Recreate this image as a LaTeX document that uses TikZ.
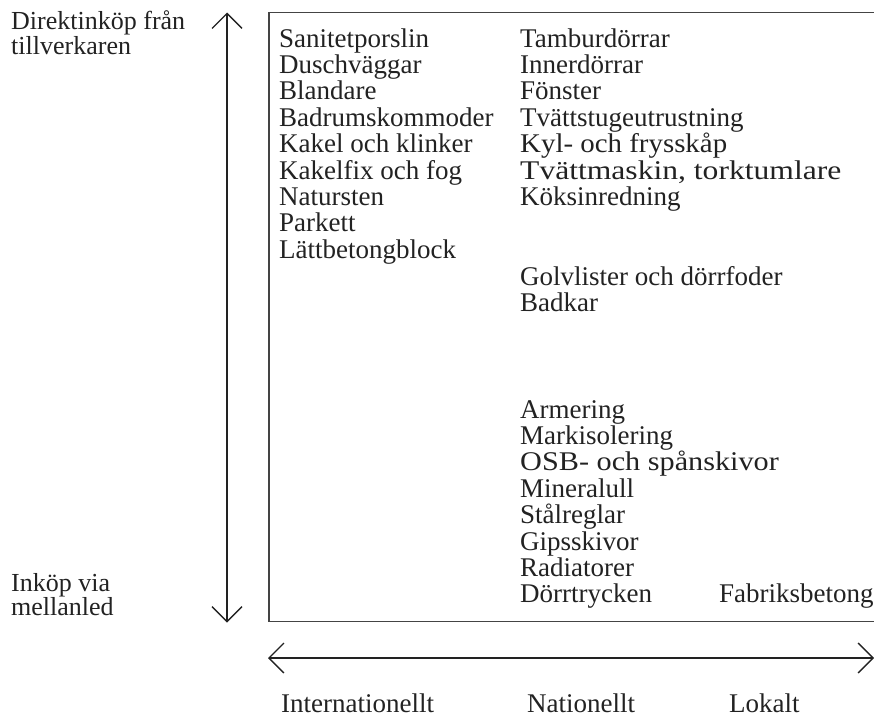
\documentclass[tikz,border=0pt]{standalone}
\usepackage{fontspec}
\usepackage{graphicx}
\setmainfont{Liberation Serif}
\usetikzlibrary{arrows.meta}
\definecolor{ink}{HTML}{222222}
\definecolor{rule}{HTML}{444444}
\tikzset{
  item/.style={anchor=base west, inner sep=0pt, font=\fontsize{27}{26.4}\selectfont, text=ink},
  side/.style={anchor=base west, inner sep=0pt, font=\fontsize{26}{23}\selectfont, text=ink},
  axis/.style={draw=ink, line width=1.3pt, {Straight Barb[length=15pt,width=30pt]}-{Straight Barb[length=15pt,width=30pt]}},
  frame/.style={draw=rule, line width=1.2pt}
}
\begin{document}
\begin{tikzpicture}[x=1pt,y=-1pt]
\useasboundingbox (0,0) rectangle (874,718);
% frame
\coordinate (tr) at (874,12.3);
\coordinate (tl) at (269,12.3);
\coordinate (bl) at (269,621.5);
\coordinate (br) at (874,621.5);
\draw[frame] (tr) -- (tl) -- (bl) -- (br);
% axes
\coordinate (vtop) at (227,12.5);
\coordinate (vbot) at (227,622.5);
\coordinate (hl) at (268,658);
\coordinate (hr) at (874,658);
\draw[axis] (vbot) -- (vtop);
\draw[axis] (hl) -- (hr);
% side labels
\node[side] (direkt) at (11,29.5) {Direktinköp från};
\node[side] (tillv) at (11,54) {tillverkaren};
\node[side] (inkop) at (11,591) {Inköp via};
\node[side] (mellan) at (11,615.5) {mellanled};
% column 1
\node[item] (a1) at (279,47) {Sanitetporslin};
\node[item] (a2) at (279,73.4) {Duschväggar};
\node[item] (a3) at (279,99.8) {Blandare};
\node[item] (a4) at (279,126.2) {Badrumskommoder};
\node[item] (a5) at (279,152.6) {Kakel och klinker};
\node[item] (a6) at (279,179) {Kakelfix och fog};
\node[item] (a7) at (279,205.4) {Natursten};
\node[item] (a8) at (279,231.8) {Parkett};
\node[item] (a9) at (279,258.2) {Lättbetongblock};
% column 2 top
\node[item] (b1) at (520,47) {Tamburdörrar};
\node[item] (b2) at (520,73.4) {Innerdörrar};
\node[item] (b3) at (520,99.8) {Fönster};
\node[item] (b4) at (520,126.2) {Tvättstugeutrustning};
\node[item] (b5) at (520,152.6) {\scalebox{1.07}[1]{Kyl- och frysskåp}};
\node[item] (b6) at (520,179) {\scalebox{1.17}[1]{Tvättmaskin, torktumlare}};
\node[item] (b7) at (520,205.4) {Köksinredning};
% column 2 middle
\node[item] (c1) at (520,285) {Golvlister och dörrfoder};
\node[item] (c2) at (520,311.4) {Badkar};
% column 2 bottom
\node[item] (d1) at (520,418) {Armering};
\node[item] (d2) at (520,444.4) {Markisolering};
\node[item] (d3) at (520,470.8) {\scalebox{1.12}[1]{OSB- och spånskivor}};
\node[item] (d4) at (520,497.2) {Mineralull};
\node[item] (d5) at (520,523.6) {Stålreglar};
\node[item] (d6) at (520,550) {Gipsskivor};
\node[item] (d7) at (520,576.4) {Radiatorer};
\node[item] (d8) at (520,602.8) {Dörrtrycken};
% column 3
\node[item] (e1) at (719,602.8) {Fabriksbetong};
% bottom labels
\node[item] (intl) at (281,712) {Internationellt};
\node[item] (natl) at (527,712) {Nationellt};
\node[item] (lok) at (729,712) {Lokalt};
\end{tikzpicture}
\end{document}
